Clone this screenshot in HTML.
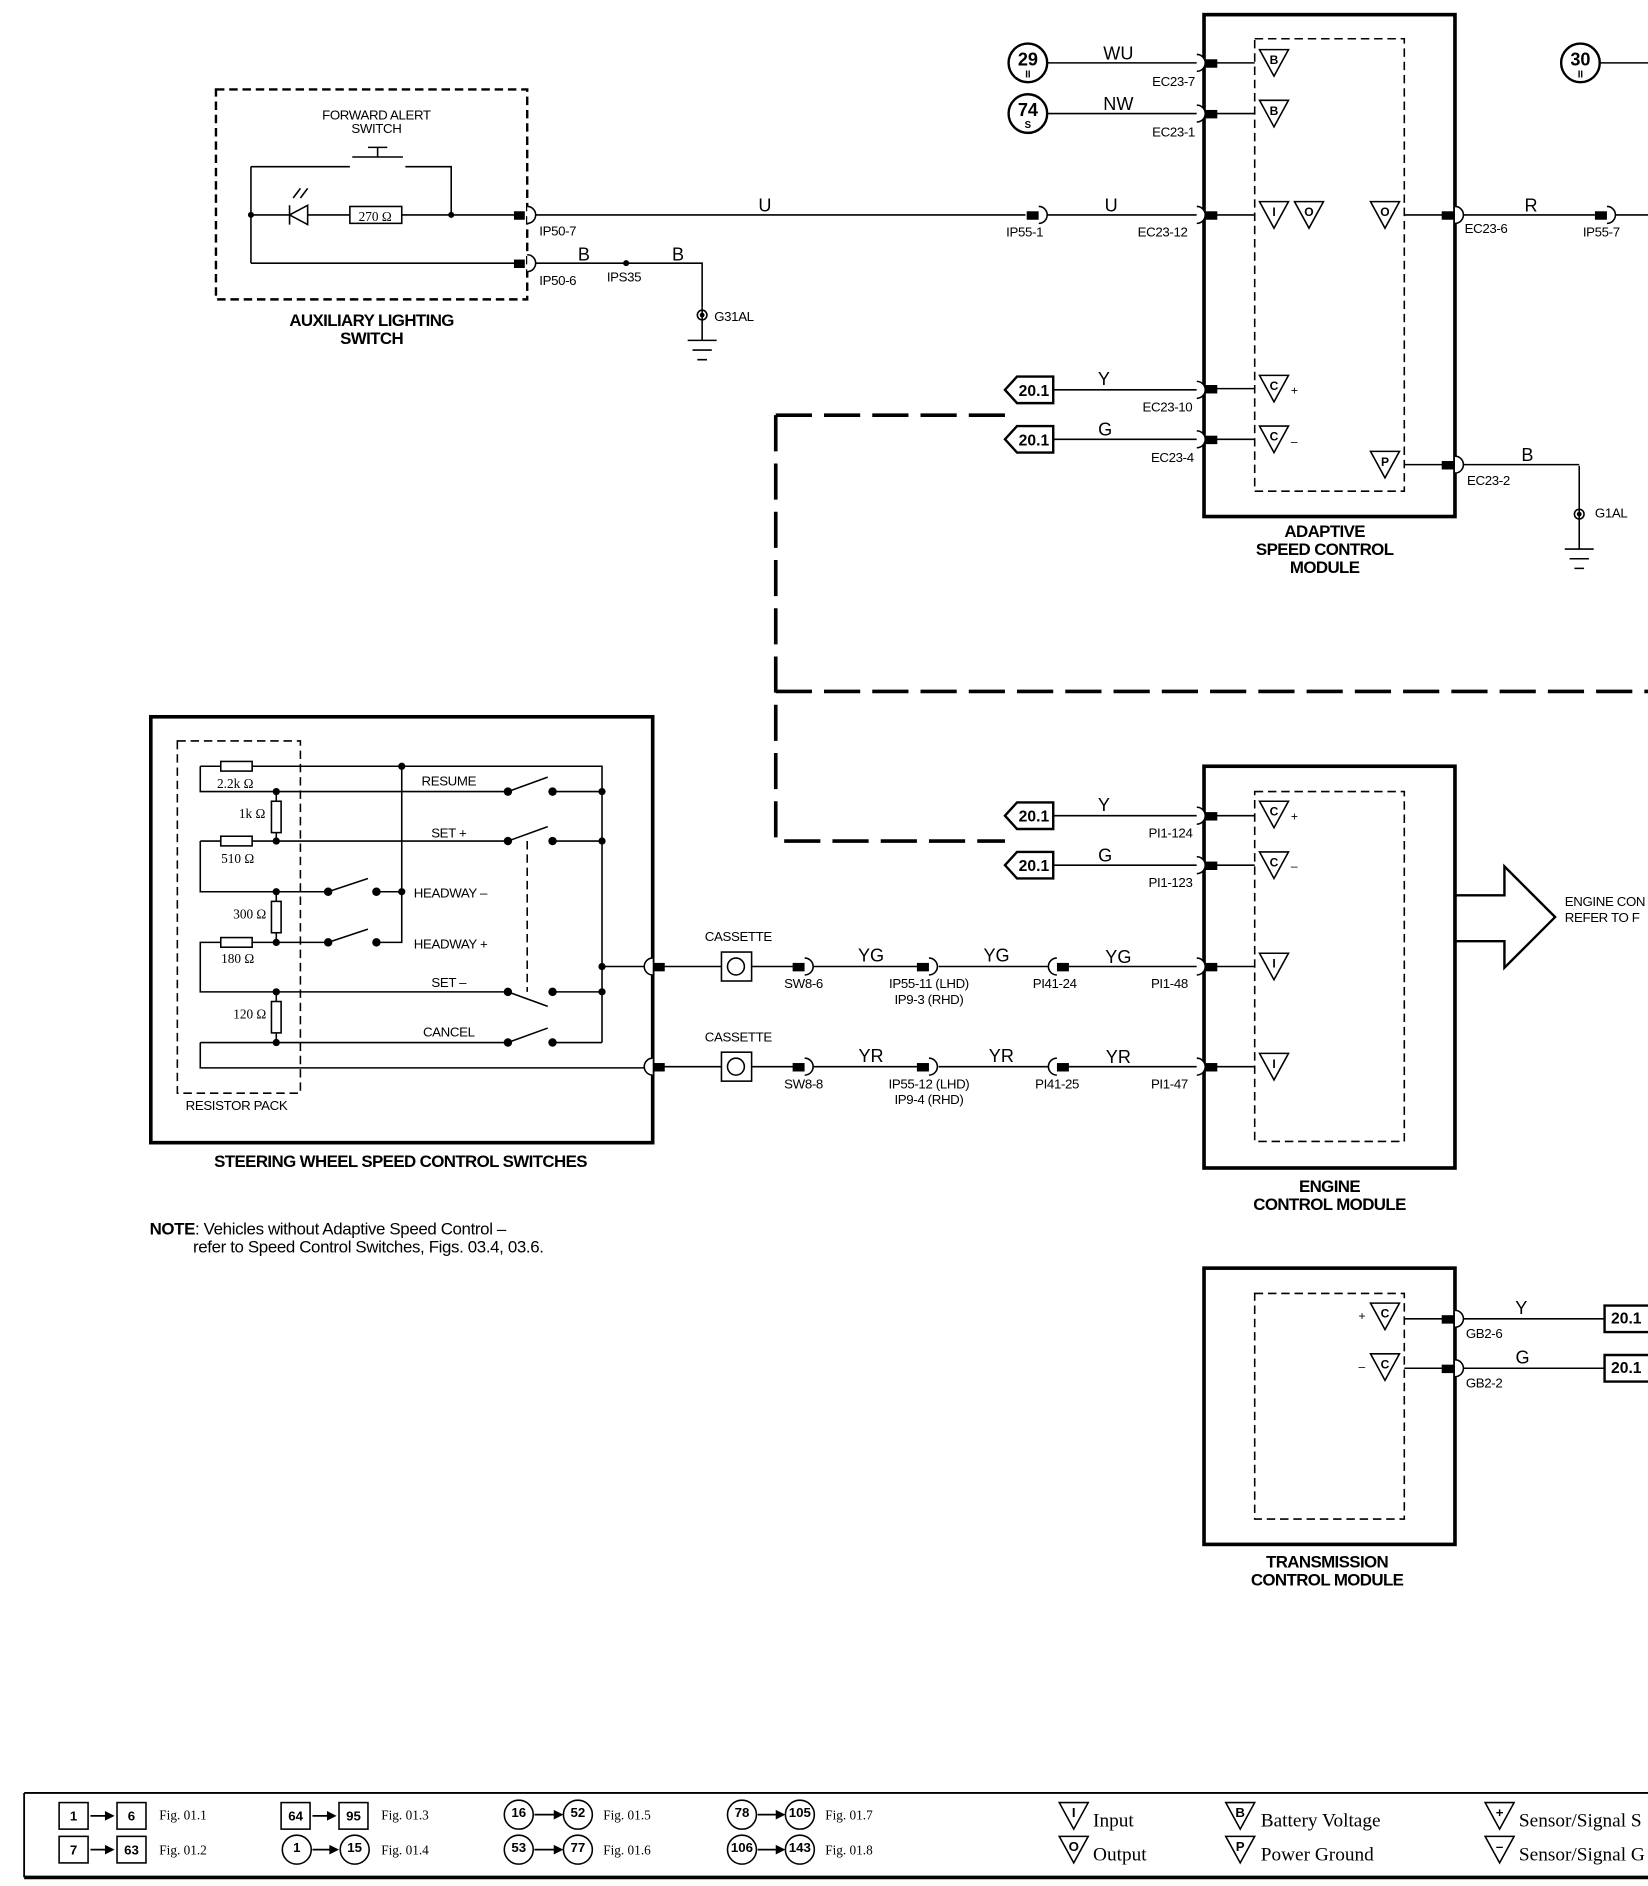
<!DOCTYPE html>
<html><head><meta charset="utf-8"><style>
html,body{margin:0;padding:0;background:#fff}
svg{display:block}
text{font-family:"Liberation Sans",sans-serif;fill:#000}
</style></head><body>
<svg width="1648" height="1886" viewBox="0 0 1366 1563" xmlns="http://www.w3.org/2000/svg">
<g fill="none" stroke="#000" stroke-width="1.3">
<rect x="179" y="74" width="258" height="174" stroke-dasharray="7,4" stroke-width="2"/>
<path d="M208,138 V218 M208,138 H290 M336,138 H374 V178 M208,178 H240 M255,178 H290 M333,178 H430 M208,218 H430"/>
<path d="M292,130 H334 M313,122 V130 M305,122 H321"/>
<rect x="290" y="171" width="43" height="14" fill="#fff"/>
<path d="M240,170 V186 M240,178 L255,170 V186 Z"/>
<path d="M243,164 L249,156 M249,164 L255,156"/>
<path d="M443,178 H850 M862,178 H992 M443,218 H582 V255"/>
<path d="M582,255 V282 M570,282 H594 M574,290 H590 M578,298 H586"/>
<circle cx="582" cy="261" r="4"/>
<path d="M1309,386 V455 M1297,455 H1321 M1301,463 H1317 M1305,471 H1313"/>
<circle cx="1309" cy="426" r="4"/>
<rect x="998" y="12" width="208" height="416" stroke-width="3"/>
<rect x="1040" y="32" width="124" height="375" stroke-dasharray="7,4"/>
<circle cx="852" cy="52" r="16" stroke-width="2"/>
<circle cx="852" cy="94" r="16" stroke-width="2"/>
<circle cx="1310" cy="52" r="16" stroke-width="2"/>
<path d="M868,52 H992 M868,94 H992 M1008,52 H1040 M1008,94 H1040 M1008,178 H1040 M1008,322 H1040 M1008,364 H1040 M1164,178 H1196 M1164,385 H1196"/>
<path d="M1213,178 H1322 M1336,178 H1366 M1213,385 H1309 M1326,52 H1366"/>
<path d="M873,323 H992 M873,364 H992"/>
<path d="M643,344 H833 M643,344 V697 H833 M643,573 H1366" stroke-width="3" stroke-dasharray="30,10"/>
<rect x="998" y="635" width="208" height="333" stroke-width="3"/>
<rect x="1040" y="656" width="124" height="290" stroke-dasharray="7,4"/>
<path d="M873,676 H992 M873,717 H992 M1008,676 H1040 M1008,717 H1040 M1008,801 H1040 M1008,884 H1040"/>
<path d="M1206,742 H1247 V718 L1289,760 L1247,802 V780 H1206" stroke-width="2"/>
<rect x="998" y="1051" width="208" height="229" stroke-width="3"/>
<rect x="1040" y="1072" width="124" height="187" stroke-dasharray="7,4"/>
<path d="M1164,1093 H1196 M1164,1134 H1196 M1213,1093 H1330 M1213,1134 H1330"/>
<rect x="125" y="594" width="416" height="353" stroke-width="3"/>
<rect x="147" y="614" width="102" height="292" stroke-dasharray="7,4"/>
<path d="M166,635 H183 M209,635 H499 V864 M166,635 V656 H421 M458,656 H499 M166,697 H183 M209,697 H421 M458,697 H499 M166,697 V739 H272 M312,739 H333 M333,635 V781 H312 M272,781 H209 M183,781 H166 V822 H421 M458,822 H499 M166,864 H421 M458,864 H499 M166,864 V885 H535 M499,801 H535"/>
<path d="M229,656 V664 M229,690 V697 M229,739 V747 M229,773 V781 M229,822 V830 M229,856 V864"/>
<rect x="183" y="631" width="26" height="8"/><rect x="183" y="693" width="26" height="8"/><rect x="183" y="777" width="26" height="8"/>
<rect x="225" y="664" width="8" height="26"/><rect x="225" y="747" width="8" height="26"/><rect x="225" y="830" width="8" height="26"/>
<path d="M421,656 L454,644 M421,697 L454,685 M272,739 L305,728 M272,781 L305,770 M421,822 L454,834 M421,864 L454,852"/>
<path d="M437,697 V822" stroke-dasharray="7,4"/>
<path d="M550,801 H598 M623,801 H659 M673,801 H765 M778,801 H874 M886,801 H992 M550,884 H598 M623,884 H659 M673,884 H765 M778,884 H874 M886,884 H992"/>
<rect x="598" y="789" width="25" height="24"/><circle cx="610" cy="801" r="7"/>
<rect x="598" y="872" width="25" height="24"/><circle cx="610" cy="884" r="7"/>
<path d="M20,1486 H1366 M20,1486 V1556" stroke-width="1.5"/>
<path d="M20,1556 H1366" stroke-width="3"/>
</g>
<g fill="#000">
<circle cx="208" cy="178" r="2.5"/><circle cx="374" cy="178" r="2.5"/><circle cx="519" cy="218" r="2.5"/>
<circle cx="582" cy="261" r="2"/><circle cx="1309" cy="426" r="2"/>
<circle cx="333" cy="635" r="3"/><circle cx="229" cy="656" r="3"/><circle cx="229" cy="697" r="3"/><circle cx="229" cy="739" r="3"/><circle cx="229" cy="781" r="3"/><circle cx="229" cy="822" r="3"/><circle cx="229" cy="864" r="3"/>
<circle cx="421" cy="656" r="3.5"/><circle cx="458" cy="656" r="3.5"/><circle cx="421" cy="697" r="3.5"/><circle cx="458" cy="697" r="3.5"/>
<circle cx="272" cy="739" r="3.5"/><circle cx="312" cy="739" r="3.5"/><circle cx="333" cy="739" r="3"/><circle cx="272" cy="781" r="3.5"/><circle cx="312" cy="781" r="3.5"/>
<circle cx="421" cy="822" r="3.5"/><circle cx="458" cy="822" r="3.5"/><circle cx="421" cy="864" r="3.5"/><circle cx="458" cy="864" r="3.5"/>
<circle cx="499" cy="656" r="3"/><circle cx="499" cy="697" r="3"/><circle cx="499" cy="801" r="3"/><circle cx="499" cy="822" r="3"/>
<rect x="426" y="175" width="9" height="7"/><rect x="426" y="215" width="9" height="7"/>
<rect x="851" y="175" width="10" height="7"/>
<rect x="999" y="49" width="10" height="7"/><rect x="999" y="91" width="10" height="7"/><rect x="999" y="175" width="10" height="7"/><rect x="999" y="319" width="10" height="7"/><rect x="999" y="361" width="10" height="7"/>
<rect x="1195" y="175" width="10" height="7"/><rect x="1195" y="382" width="10" height="7"/><rect x="1322" y="175" width="10" height="7"/>
<rect x="999" y="673" width="10" height="7"/><rect x="999" y="714" width="10" height="7"/><rect x="999" y="798" width="10" height="7"/><rect x="999" y="881" width="10" height="7"/>
<rect x="1195" y="1090" width="10" height="7"/><rect x="1195" y="1131" width="10" height="7"/>
<rect x="542" y="798" width="9" height="7"/><rect x="542" y="881" width="9" height="7"/>
<rect x="657" y="798" width="10" height="7"/><rect x="657" y="881" width="10" height="7"/>
<rect x="760" y="798" width="10" height="7"/><rect x="760" y="881" width="10" height="7"/>
<rect x="876" y="798" width="10" height="7"/><rect x="876" y="881" width="10" height="7"/>
<path d="M87,1501 L95,1505 L87,1509 Z M87,1529 L95,1533 L87,1537 Z M271,1501 L279,1505 L271,1509 Z M273,1529 L281,1533 L273,1537 Z M459,1500 L467,1504 L459,1508 Z M459,1529 L467,1533 L459,1537 Z M643,1500 L651,1504 L643,1508 Z M643,1529 L651,1533 L643,1537 Z"/>
</g>
<g fill="#fff" stroke="#000" stroke-width="1.3">
<path d="M437,171 A7,7 0 0 1 437,185"/><path d="M437,211 A7,7 0 0 1 437,225"/>
<path d="M861,171 A7,7 0 0 1 861,185"/>
<path d="M992,45 A7,7 0 0 1 992,59"/><path d="M992,87 A7,7 0 0 1 992,101"/><path d="M992,171 A7,7 0 0 1 992,185"/><path d="M992,316 A7,7 0 0 1 992,330"/><path d="M992,357 A7,7 0 0 1 992,371"/>
<path d="M1206,171 A7,7 0 0 1 1206,185"/><path d="M1206,378 A7,7 0 0 1 1206,392"/><path d="M1332,171 A7,7 0 0 1 1332,185"/>
<path d="M992,669 A7,7 0 0 1 992,683"/><path d="M992,710 A7,7 0 0 1 992,724"/><path d="M992,794 A7,7 0 0 1 992,808"/><path d="M992,877 A7,7 0 0 1 992,891"/>
<path d="M1206,1086 A7,7 0 0 1 1206,1100"/><path d="M1206,1127 A7,7 0 0 1 1206,1141"/>
<path d="M541,794 A7,7 0 0 0 541,808"/><path d="M541,877 A7,7 0 0 0 541,891"/>
<path d="M667,794 A7,7 0 0 1 667,808"/><path d="M667,877 A7,7 0 0 1 667,891"/>
<path d="M770,794 A7,7 0 0 1 770,808"/><path d="M770,877 A7,7 0 0 1 770,891"/>
<path d="M876,794 A7,7 0 0 0 876,808"/><path d="M876,877 A7,7 0 0 0 876,891"/>
<path d="M833,323 L843,312 H873 V334 H843 Z" stroke-width="2"/>
<path d="M833,364 L843,353 H873 V375 H843 Z" stroke-width="2"/>
<path d="M833,676 L843,665 H873 V687 H843 Z" stroke-width="2"/>
<path d="M833,717 L843,706 H873 V728 H843 Z" stroke-width="2"/>
<path d="M1330,1082 H1370 V1104 H1330 Z" stroke-width="2"/>
<path d="M1330,1123 H1370 V1145 H1330 Z" stroke-width="2"/>
</g>
<g fill="#fff" stroke="#000" stroke-width="1.3">
<path d="M1044,41 H1068 L1056,63 Z"/><path d="M1044,83 H1068 L1056,105 Z"/>
<path d="M1044,167 H1068 L1056,189 Z"/><path d="M1073,167 H1097 L1085,189 Z"/><path d="M1136,167 H1160 L1148,189 Z"/>
<path d="M1044,311 H1068 L1056,333 Z"/><path d="M1044,353 H1068 L1056,375 Z"/><path d="M1136,374 H1160 L1148,396 Z"/>
<path d="M1044,664 H1068 L1056,686 Z"/><path d="M1044,706 H1068 L1056,728 Z"/><path d="M1044,790 H1068 L1056,812 Z"/><path d="M1044,873 H1068 L1056,895 Z"/>
<path d="M1136,1080 H1160 L1148,1102 Z"/><path d="M1136,1122 H1160 L1148,1144 Z"/>
</g>
<g font-size="10" font-weight="bold" text-anchor="middle">
<text x="1056" y="53">B</text><text x="1056" y="95">B</text>
<text x="1056" y="179">I</text><text x="1085" y="179">O</text><text x="1148" y="179">O</text>
<text x="1056" y="323">C</text><text x="1056" y="365">C</text><text x="1148" y="386">P</text>
<text x="1056" y="676">C</text><text x="1056" y="718">C</text><text x="1056" y="802">I</text><text x="1056" y="885">I</text>
<text x="1148" y="1092">C</text><text x="1148" y="1134">C</text>
</g>
<g font-size="10" text-anchor="start">
<text x="1070" y="327">+</text><text x="1070" y="369">–</text><text x="1070" y="680">+</text><text x="1070" y="721">–</text>
<text x="1126" y="1094">+</text><text x="1126" y="1136">–</text>
</g>
<g font-weight="bold" text-anchor="middle">
<text x="852" y="54" font-size="15">29</text><text x="852" y="64" font-size="8">II</text>
<text x="852" y="96" font-size="15">74</text><text x="852" y="106" font-size="8">S</text>
<text x="1310" y="54" font-size="15">30</text><text x="1310" y="64" font-size="8">II</text>
<text x="857" y="328" font-size="13">20.1</text><text x="857" y="369" font-size="13">20.1</text>
<text x="857" y="681" font-size="13">20.1</text><text x="857" y="722" font-size="13">20.1</text>
<text x="1348" y="1097" font-size="13">20.1</text><text x="1348" y="1138" font-size="13">20.1</text>
</g>
<g font-size="15" text-anchor="middle">
<text x="927" y="49">WU</text><text x="927" y="91">NW</text>
<text x="634" y="175">U</text><text x="921" y="175">U</text>
<text x="484" y="216">B</text><text x="562" y="216">B</text>
<text x="1269" y="175">R</text><text x="1266" y="382">B</text>
<text x="915" y="319">Y</text><text x="916" y="361">G</text>
<text x="915" y="672">Y</text><text x="916" y="714">G</text>
<text x="722" y="797">YG</text><text x="826" y="797">YG</text><text x="927" y="798">YG</text>
<text x="722" y="880">YR</text><text x="830" y="880">YR</text><text x="927" y="881">YR</text>
<text x="1261" y="1089">Y</text><text x="1262" y="1130">G</text>
</g>
<g font-size="11" letter-spacing="-0.3">
<text x="955" y="71">EC23-7</text><text x="955" y="113">EC23-1</text>
<text x="447" y="195">IP50-7</text><text x="447" y="236">IP50-6</text><text x="503" y="233">IPS35</text>
<text x="592" y="266">G31AL</text>
<text x="834" y="196">IP55-1</text><text x="943" y="196">EC23-12</text>
<text x="1214" y="193">EC23-6</text><text x="1312" y="196">IP55-7</text>
<text x="947" y="341">EC23-10</text><text x="954" y="383">EC23-4</text>
<text x="1216" y="402">EC23-2</text><text x="1322" y="429">G1AL</text>
<text x="952" y="694">PI1-124</text><text x="952" y="735">PI1-123</text>
<text x="954" y="819">PI1-48</text><text x="954" y="902">PI1-47</text>
<text x="650" y="819">SW8-6</text><text x="650" y="902">SW8-8</text>
<text x="856" y="819">PI41-24</text><text x="858" y="902">PI41-25</text>
<text x="1215" y="1109">GB2-6</text><text x="1215" y="1150">GB2-2</text>
<text x="1297" y="751">ENGINE CON</text><text x="1297" y="764">REFER TO F</text>
</g>
<g font-size="11" text-anchor="middle" letter-spacing="-0.3">
<text x="770" y="819">IP55-11 (LHD)</text><text x="770" y="832">IP9-3 (RHD)</text>
<text x="770" y="902">IP55-12 (LHD)</text><text x="770" y="915">IP9-4 (RHD)</text>
<text x="612" y="780">CASSETTE</text><text x="612" y="863">CASSETTE</text>
<text x="312" y="99">FORWARD ALERT</text><text x="312" y="110">SWITCH</text>
<text x="372" y="651">RESUME</text><text x="372" y="694">SET +</text>
<text x="372" y="818">SET –</text><text x="372" y="859">CANCEL</text>
<text x="196" y="920">RESISTOR PACK</text>
</g>
<g font-size="11" letter-spacing="-0.3"><text x="343" y="744">HEADWAY –</text><text x="343" y="786">HEADWAY +</text></g>
<g font-size="11" text-anchor="middle">
<text x="311" y="183" style="font-family:'Liberation Serif',serif">270 Ω</text>
<text x="195" y="653" style="font-family:'Liberation Serif',serif">2.2k Ω</text>
<text x="209" y="678" style="font-family:'Liberation Serif',serif">1k Ω</text>
<text x="197" y="715" style="font-family:'Liberation Serif',serif">510 Ω</text>
<text x="207" y="761" style="font-family:'Liberation Serif',serif">300 Ω</text>
<text x="197" y="798" style="font-family:'Liberation Serif',serif">180 Ω</text>
<text x="207" y="844" style="font-family:'Liberation Serif',serif">120 Ω</text>
</g>
<g font-size="14" font-weight="bold" text-anchor="middle" letter-spacing="-0.5">
<text x="308" y="270">AUXILIARY LIGHTING</text><text x="308" y="285">SWITCH</text>
<text x="1098" y="445">ADAPTIVE</text><text x="1098" y="460">SPEED CONTROL</text><text x="1098" y="475">MODULE</text>
<text x="1102" y="988">ENGINE</text><text x="1102" y="1003">CONTROL MODULE</text>
<text x="1100" y="1299">TRANSMISSION</text><text x="1100" y="1314">CONTROL MODULE</text>
<text x="332" y="967">STEERING WHEEL SPEED CONTROL SWITCHES</text>
</g>
<g font-size="14" letter-spacing="-0.3">
<text x="124" y="1023"><tspan font-weight="bold">NOTE</tspan>: Vehicles without Adaptive Speed Control –</text>
<text x="160" y="1038">refer to Speed Control Switches, Figs. 03.4, 03.6.</text>
</g>
<g fill="#fff" stroke="#000" stroke-width="1.3">
<rect x="49" y="1494" width="24" height="22"/><rect x="97" y="1494" width="24" height="22"/>
<rect x="49" y="1522" width="24" height="22"/><rect x="97" y="1522" width="24" height="22"/>
<rect x="233" y="1494" width="24" height="22"/><rect x="281" y="1494" width="24" height="22"/>
<circle cx="246" cy="1533" r="12"/><circle cx="294" cy="1533" r="12"/>
<circle cx="430" cy="1504" r="12"/><circle cx="479" cy="1504" r="12"/>
<circle cx="430" cy="1533" r="12"/><circle cx="479" cy="1533" r="12"/>
<circle cx="615" cy="1504" r="12"/><circle cx="663" cy="1504" r="12"/>
<circle cx="615" cy="1533" r="12"/><circle cx="663" cy="1533" r="12"/>
<path d="M878,1494 H902 L890,1516 Z"/><path d="M878,1522 H902 L890,1544 Z"/>
<path d="M1016,1494 H1040 L1028,1516 Z"/><path d="M1016,1522 H1040 L1028,1544 Z"/>
<path d="M1231,1494 H1255 L1243,1516 Z"/><path d="M1231,1522 H1255 L1243,1544 Z"/>
<path d="M75,1505 H88 M75,1533 H88 M259,1505 H272 M259,1533 H274 M443,1504 H460 M443,1533 H460 M628,1504 H644 M628,1533 H644" stroke-width="1.5"/>
</g>
<g font-size="11" font-weight="bold" text-anchor="middle">
<text x="61" y="1509">1</text><text x="109" y="1509">6</text><text x="61" y="1537">7</text><text x="109" y="1537">63</text>
<text x="245" y="1509">64</text><text x="293" y="1509">95</text>
<text x="246" y="1535">1</text><text x="294" y="1535">15</text>
<text x="430" y="1506">16</text><text x="479" y="1506">52</text><text x="430" y="1535">53</text><text x="479" y="1535">77</text>
<text x="615" y="1506">78</text><text x="663" y="1506">105</text><text x="615" y="1535">106</text><text x="663" y="1535">143</text>
<text x="890" y="1506">I</text><text x="890" y="1534">O</text><text x="1028" y="1506">B</text><text x="1028" y="1534">P</text>
<text x="1243" y="1506">+</text><text x="1243" y="1534">–</text>
</g>
<g font-size="11">
<text x="132" y="1508" style="font-family:'Liberation Serif',serif">Fig. 01.1</text><text x="132" y="1537" style="font-family:'Liberation Serif',serif">Fig. 01.2</text>
<text x="316" y="1508" style="font-family:'Liberation Serif',serif">Fig. 01.3</text><text x="316" y="1537" style="font-family:'Liberation Serif',serif">Fig. 01.4</text>
<text x="500" y="1508" style="font-family:'Liberation Serif',serif">Fig. 01.5</text><text x="500" y="1537" style="font-family:'Liberation Serif',serif">Fig. 01.6</text>
<text x="684" y="1508" style="font-family:'Liberation Serif',serif">Fig. 01.7</text><text x="684" y="1537" style="font-family:'Liberation Serif',serif">Fig. 01.8</text>
</g>
<g font-size="16">
<text x="906" y="1514" style="font-family:'Liberation Serif',serif">Input</text><text x="906" y="1542" style="font-family:'Liberation Serif',serif">Output</text>
<text x="1045" y="1514" style="font-family:'Liberation Serif',serif">Battery Voltage</text><text x="1045" y="1542" style="font-family:'Liberation Serif',serif">Power Ground</text>
<text x="1259" y="1514" style="font-family:'Liberation Serif',serif">Sensor/Signal S</text><text x="1259" y="1542" style="font-family:'Liberation Serif',serif">Sensor/Signal G</text>
</g>
</svg>
</body></html>
